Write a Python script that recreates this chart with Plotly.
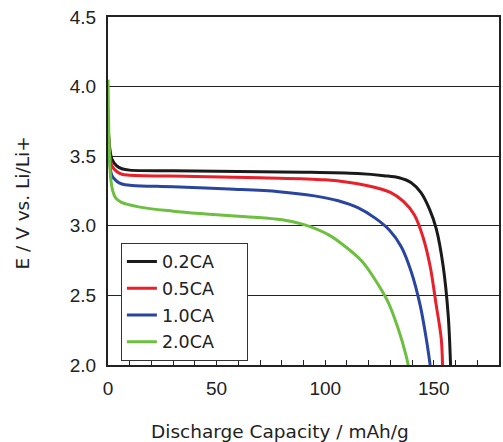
import plotly.graph_objects as go

# Discharge curves (capacity in mAh/g, potential in V vs. Li/Li+)
cap_02 = [0, 0.8, 1.8, 4, 6.4, 10, 30, 60, 90, 115, 127, 134, 139.6, 144, 148, 151.1, 154.3, 156.6, 157.7]
v_02 = [3.72, 3.56, 3.48, 3.43, 3.41, 3.40, 3.395, 3.39, 3.385, 3.375, 3.36, 3.345, 3.31, 3.24, 3.12, 2.98, 2.71, 2.36, 2.0]

cap_05 = [0, 0.8, 1.8, 4, 6.4, 10, 40, 70, 100, 119, 130, 136, 141, 145, 148.3, 151.1, 153.4, 154.0]
v_05 = [3.75, 3.52, 3.43, 3.39, 3.37, 3.364, 3.355, 3.345, 3.33, 3.29, 3.24, 3.175, 3.08, 2.92, 2.71, 2.43, 2.19, 2.0]

cap_10 = [0, 0.8, 1.8, 4, 6.4, 11, 30, 55.7, 78.7, 95, 106, 115, 123, 129.5, 135, 139.6, 143.7, 146.5, 148.3]
v_10 = [3.80, 3.46, 3.36, 3.32, 3.30, 3.29, 3.28, 3.264, 3.245, 3.215, 3.18, 3.13, 3.055, 2.97, 2.85, 2.67, 2.43, 2.19, 2.0]

cap_20 = [0, 0.5, 1.2, 2.2, 3.5, 6, 14, 30, 45, 60, 72, 82, 91, 101.6, 109.3, 116.9, 123.5, 129, 133.6, 137.2, 138.2]
v_20 = [4.05, 3.60, 3.35, 3.25, 3.20, 3.17, 3.136, 3.105, 3.085, 3.068, 3.056, 3.038, 3.005, 2.935, 2.85, 2.745, 2.60, 2.45, 2.26, 2.07, 2.0]

series_names = ["0.2CA", "0.5CA", "1.0CA", "2.0CA"]
series_colors = ["#1a1a1a", "#e8202a", "#2a45a0", "#6cbf3f"]

x_ticks = [0, 50, 100, 150]
y_ticks = [2.0, 2.5, 3.0, 3.5, 4.0, 4.5]

x_title = "Discharge Capacity / mAh/g"
y_title = "E / V vs. Li/Li+"

# trailing non-breaking spaces widen the legend box
legend_pad = "&nbsp;" * 5

fig = go.Figure()
for name, color, xs, ys in zip(series_names, series_colors,
                               [cap_02, cap_05, cap_10, cap_20],
                               [v_02, v_05, v_10, v_20]):
    fig.add_trace(go.Scatter(
        x=xs, y=ys, mode="lines", name=name + legend_pad, legendgroup=name,
        line=dict(color=color, width=3, shape="spline", smoothing=1.0),
    ))

tick_font = "Liberation Sans, Arial, sans-serif"
label_font = "DejaVu Sans, Verdana, sans-serif"
ink = "#222"

fig.update_layout(
    width=503, height=442,
    margin=dict(l=108, r=2, t=17, b=77),
    paper_bgcolor="white", plot_bgcolor="white",
    font=dict(family=tick_font, color=ink),
    showlegend=True,
    legend=dict(
        x=0.033, y=0.352, xanchor="left", yanchor="top",
        bgcolor="white", bordercolor="#333", borderwidth=1,
        font=dict(size=17.5, color=ink, family=label_font),
        tracegroupgap=1, traceorder="grouped",
    ),
    xaxis=dict(
        range=[0, 180], tickvals=x_ticks, ticks="inside", ticklen=5,
        tickcolor=ink, tickwidth=1,
        minor=dict(dtick=10, ticks="inside", ticklen=5, tickcolor=ink, tickwidth=1, showgrid=False),
        showgrid=False, zeroline=False,
        showline=True, linecolor=ink, linewidth=2, mirror=True,
        tickfont=dict(size=19, color=ink), ticklabelstandoff=5,
    ),
    yaxis=dict(
        range=[2.0, 4.5], tickvals=y_ticks, tickformat=".1f",
        ticks="", showgrid=True, gridcolor=ink, gridwidth=1,
        zeroline=False,
        showline=True, linecolor=ink, linewidth=2, mirror=True,
        tickfont=dict(size=19, color=ink), ticklabelstandoff=6,
    ),
    annotations=[
        dict(text=x_title, xref="paper", yref="paper", x=0.44, y=-0.19,
             xanchor="center", yanchor="middle", showarrow=False,
             font=dict(size=18.5, color=ink, family=label_font)),
        dict(text=y_title, xref="paper", yref="paper", x=-0.219, y=0.465,
             xanchor="center", yanchor="middle", textangle=-90, showarrow=False,
             font=dict(size=18.5, color=ink, family=label_font)),
    ],
)

fig.write_html("out.html")
